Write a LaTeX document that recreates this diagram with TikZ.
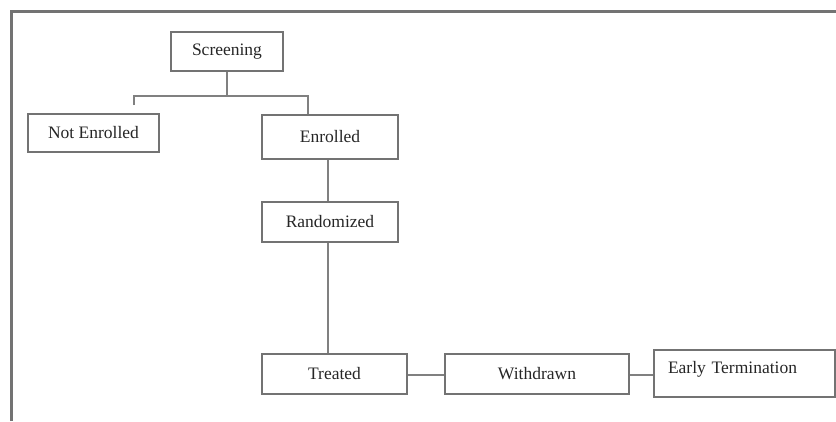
\documentclass[tikz,border=0pt]{standalone}
\usepackage{fontspec}
\setmainfont{Liberation Serif}
\begin{document}
\begin{tikzpicture}[
  x=1pt,
  y=-1pt,
  stagebox/.style={
    draw=black!55,
    line width=1.3pt,
    text=black!85,
    inner sep=0pt,
    font=\fontsize{17.5}{20}\selectfont
  },
  flowline/.style={
    draw=black!50,
    line width=1.3pt
  },
  framerule/.style={
    draw=black!55,
    line width=2.6pt
  }
]

\useasboundingbox (0,0) rectangle (836,421);

% frame
\draw[framerule] (11.5,421) -- (11.5,11.5) -- (836,11.5);

% stages
\node[stagebox, minimum width=112, minimum height=39] (scr) at (227,51.5) {Screening};
\node[stagebox, minimum width=131, minimum height=38] (nenr) at (93.5,133) {Not Enrolled};
\node[stagebox, minimum width=136, minimum height=44] (enr) at (330,137) {Enrolled};
\node[stagebox, minimum width=136, minimum height=40] (rand) at (330,222) {Randomized};
\node[stagebox, minimum width=145, minimum height=40] (trt) at (334.5,374) {Treated};
\node[stagebox, minimum width=184, minimum height=40] (wd) at (537,374) {Withdrawn};
\node[stagebox, minimum width=181, minimum height=47, text width=153, align=left,
  inner xsep=14, text height=12, text depth=12] (et) at (744.5,373.5) {Early Termination};

% split below screening
\coordinate (splitL) at (134,96);
\coordinate (splitR) at (308,96);

\draw[flowline] (scr.south) -- (scr.south |- splitL);
\draw[flowline] ([yshift=-9pt]splitL) -- (splitL) -- (splitR) -- (splitR |- enr.north);
\draw[flowline] ([xshift=-2pt]enr.south) -- ([xshift=-2pt]rand.north);
\draw[flowline] ([xshift=-2pt]rand.south) -- ([xshift=-2pt]rand.south |- trt.north);
\draw[flowline] ([yshift=-1pt]trt.east) -- ([yshift=-1pt]wd.west);
\draw[flowline] ([yshift=-1pt]wd.east) -- ([yshift=-1pt]wd.east -| et.west);

\end{tikzpicture}
\end{document}
